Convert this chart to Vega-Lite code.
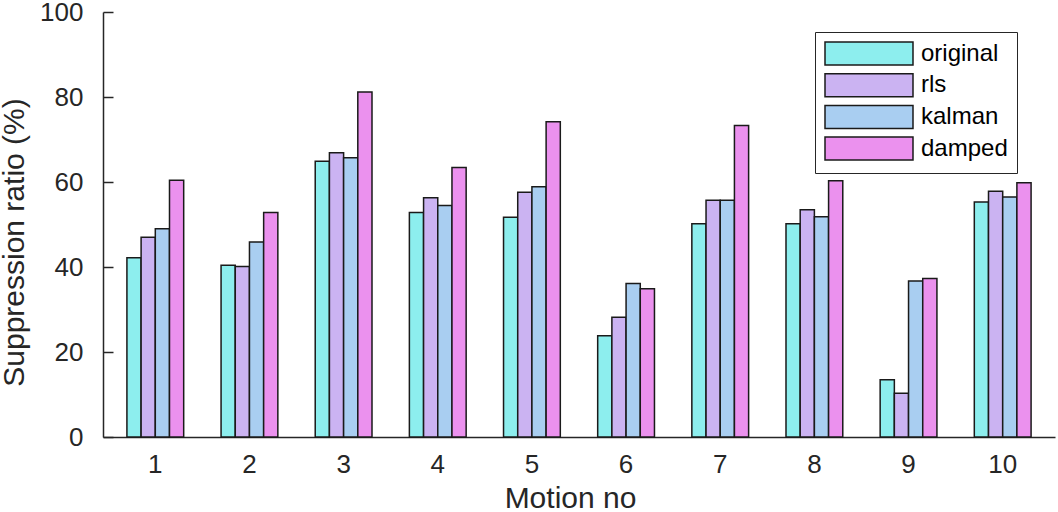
{
  "$schema": "https://vega.github.io/schema/vega-lite/v6.json",
  "width": 952,
  "height": 425,
  "autosize": {"type": "none"},
  "padding": {"left": 103, "top": 12, "right": 3, "bottom": 75},
  "background": "white",
  "config": {
    "view": {"stroke": null},
    "font": "Liberation Sans",
    "axis": {"domainColor": "#262626", "domainWidth": 1.5, "tickColor": "#262626", "tickWidth": 1.5, "labelColor": "#262626", "titleColor": "#262626", "labelFont": "Liberation Sans", "titleFont": "Liberation Sans", "grid": false}
  },
  "data": {
    "values": [
      {"motion": "1", "method": "original", "ratio": 42.2},
      {"motion": "1", "method": "rls", "ratio": 47.0},
      {"motion": "1", "method": "kalman", "ratio": 49.0},
      {"motion": "1", "method": "damped", "ratio": 60.4},
      {"motion": "2", "method": "original", "ratio": 40.4},
      {"motion": "2", "method": "rls", "ratio": 40.1},
      {"motion": "2", "method": "kalman", "ratio": 45.9},
      {"motion": "2", "method": "damped", "ratio": 52.8},
      {"motion": "3", "method": "original", "ratio": 64.9},
      {"motion": "3", "method": "rls", "ratio": 66.9},
      {"motion": "3", "method": "kalman", "ratio": 65.7},
      {"motion": "3", "method": "damped", "ratio": 81.2},
      {"motion": "4", "method": "original", "ratio": 52.8},
      {"motion": "4", "method": "rls", "ratio": 56.3},
      {"motion": "4", "method": "kalman", "ratio": 54.5},
      {"motion": "4", "method": "damped", "ratio": 63.4},
      {"motion": "5", "method": "original", "ratio": 51.7},
      {"motion": "5", "method": "rls", "ratio": 57.6},
      {"motion": "5", "method": "kalman", "ratio": 58.9},
      {"motion": "5", "method": "damped", "ratio": 74.2},
      {"motion": "6", "method": "original", "ratio": 23.8},
      {"motion": "6", "method": "rls", "ratio": 28.2},
      {"motion": "6", "method": "kalman", "ratio": 36.1},
      {"motion": "6", "method": "damped", "ratio": 34.9},
      {"motion": "7", "method": "original", "ratio": 50.2},
      {"motion": "7", "method": "rls", "ratio": 55.7},
      {"motion": "7", "method": "kalman", "ratio": 55.7},
      {"motion": "7", "method": "damped", "ratio": 73.3},
      {"motion": "8", "method": "original", "ratio": 50.2},
      {"motion": "8", "method": "rls", "ratio": 53.5},
      {"motion": "8", "method": "kalman", "ratio": 51.8},
      {"motion": "8", "method": "damped", "ratio": 60.3},
      {"motion": "9", "method": "original", "ratio": 13.5},
      {"motion": "9", "method": "rls", "ratio": 10.3},
      {"motion": "9", "method": "kalman", "ratio": 36.7},
      {"motion": "9", "method": "damped", "ratio": 37.3},
      {"motion": "10", "method": "original", "ratio": 55.3},
      {"motion": "10", "method": "rls", "ratio": 57.8},
      {"motion": "10", "method": "kalman", "ratio": 56.5},
      {"motion": "10", "method": "damped", "ratio": 59.8}
    ]
  },
  "mark": {"type": "bar", "stroke": "#1a1a1a", "strokeWidth": 1.5, "opacity": 1},
  "encoding": {
    "x": {
      "field": "motion", "type": "ordinal",
      "sort": ["1","2","3","4","5","6","7","8","9","10"],
      "scale": {"paddingInner": 0.397, "paddingOuter": 0.254},
      "axis": {"title": "Motion no", "labelAngle": 0, "ticks": false, "labelPadding": 14, "labelFontSize": 26, "titleFontSize": 30, "titleFontWeight": "normal", "titleX": 467, "titleY": 70, "titleBaseline": "alphabetic"}
    },
    "xOffset": {
      "field": "method", "type": "nominal",
      "sort": ["original", "rls", "kalman", "damped"],
      "scale": {"paddingInner": 0, "paddingOuter": 0}
    },
    "y": {
      "field": "ratio", "type": "quantitative",
      "scale": {"domain": [0, 100], "nice": false},
      "axis": {"title": "Suppression ratio (%)", "values": [0, 20, 40, 60, 80, 100], "tickSize": -10, "labelPadding": 30, "labelFontSize": 26, "titleFontSize": 30, "titleFontWeight": "normal", "titleX": -89, "titleY": 230, "titleBaseline": "middle", "titleAngle": -90}
    },
    "fill": {
      "field": "method", "type": "nominal",
      "sort": ["original", "rls", "kalman", "damped"],
      "scale": {"domain": ["original", "rls", "kalman", "damped"], "range": ["#8DEEEE", "#CBB3F2", "#A9CEF1", "#EB91EE"]},
      "legend": {
        "title": null, "orient": "none", "legendX": 712, "legendY": 20,
        "direction": "vertical",
        "symbolType": "M-3.826,-1H3.826V1H-3.826Z", "symbolSize": 529,
        "symbolOffset": 32.5,
        "symbolStrokeColor": "#1a1a1a", "symbolStrokeWidth": 1.5, "symbolOpacity": 1,
        "labelFontSize": 24, "labelColor": "#000000", "labelOffset": 39.5, "labelFont": "Liberation Sans",
        "labelExpr": "datum.label + '    '",
        "rowPadding": 2.7, "padding": 9,
        "fillColor": "white", "strokeColor": "#262626"
      }
    }
  }
}
